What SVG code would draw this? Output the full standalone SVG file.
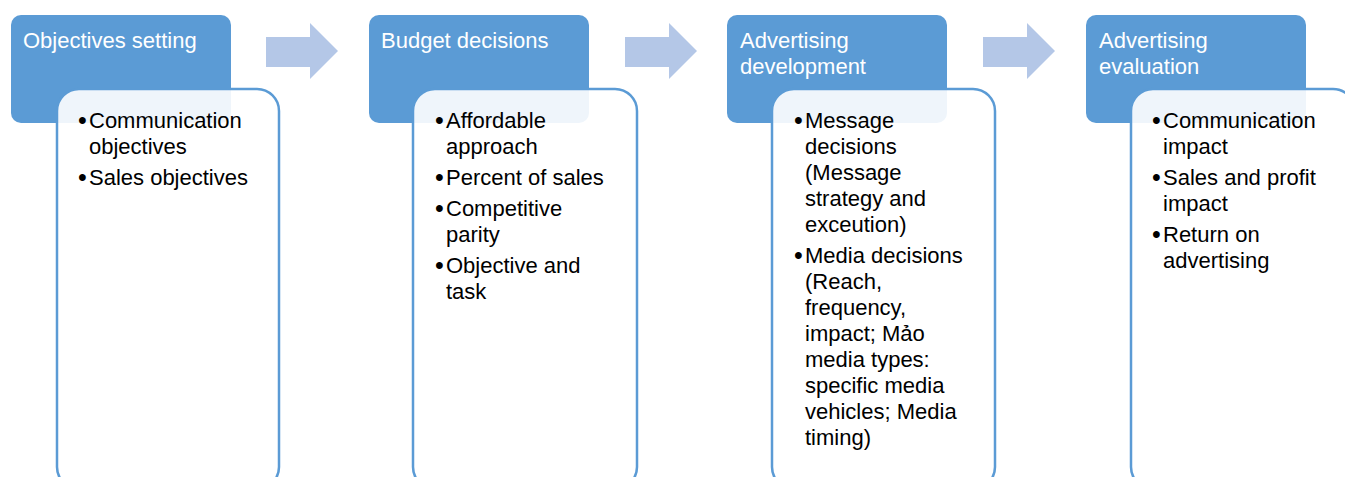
<svg xmlns="http://www.w3.org/2000/svg" width="1345" height="477" viewBox="0 0 1345 477">
<style>
.hdr{fill:#5B9BD5}
.body{fill:#FFFFFF;fill-opacity:0.9;stroke:#5B9BD5;stroke-width:2.5}
.arrow{fill:#B4C7E7}
.ht{font-family:"Liberation Sans",Arial,sans-serif;font-size:22px;fill:#FFFFFF}
.bt{font-family:"Liberation Sans",Arial,sans-serif;font-size:22px;fill:#000000}
.bu{font-size:25px}
</style>
<g id="connectors">
<polygon class="arrow" points="266,37 310,37 310,23 338,51 310,79 310,67 266,67"/>
<polygon class="arrow" points="625,37 669,37 669,23 697,51 669,79 669,67 625,67"/>
<polygon class="arrow" points="983,37 1027,37 1027,23 1055,51 1027,79 1027,67 983,67"/>
</g>
<g id="node-objectives">
<rect class="hdr" x="11" y="15" width="220" height="108" rx="10"/>
<text class="ht" x="23" y="48">Objectives setting</text>
<rect class="body" x="57" y="89" width="222" height="400" rx="22"/>
<text class="bt"><tspan class="bu" x="78" y="129">•</tspan><tspan x="89" y="128">Communication</tspan><tspan x="89" y="154">objectives</tspan></text>
<text class="bt"><tspan class="bu" x="78" y="186">•</tspan><tspan x="89" y="185">Sales objectives</tspan></text>
</g>
<g id="node-budget">
<rect class="hdr" x="369" y="15" width="220" height="108" rx="10"/>
<text class="ht" x="381" y="48">Budget decisions</text>
<rect class="body" x="413" y="89" width="224" height="400" rx="22"/>
<text class="bt"><tspan class="bu" x="435" y="129">•</tspan><tspan x="446" y="128">Affordable</tspan><tspan x="446" y="154">approach</tspan></text>
<text class="bt"><tspan class="bu" x="435" y="186">•</tspan><tspan x="446" y="185">Percent of sales</tspan></text>
<text class="bt"><tspan class="bu" x="435" y="217">•</tspan><tspan x="446" y="216">Competitive</tspan><tspan x="446" y="242">parity</tspan></text>
<text class="bt"><tspan class="bu" x="435" y="274">•</tspan><tspan x="446" y="273">Objective and</tspan><tspan x="446" y="299">task</tspan></text>
</g>
<g id="node-development">
<rect class="hdr" x="727" y="15" width="220" height="108" rx="10"/>
<text class="ht"><tspan x="740" y="48">Advertising</tspan><tspan x="740" y="74">development</tspan></text>
<rect class="body" x="772" y="89" width="223" height="400" rx="22"/>
<text class="bt"><tspan class="bu" x="794" y="129">•</tspan><tspan x="805" y="128">Message</tspan><tspan x="805" y="154">decisions</tspan><tspan x="805" y="180">(Message</tspan><tspan x="805" y="206">strategy and</tspan><tspan x="805" y="232">exceution)</tspan></text>
<text class="bt"><tspan class="bu" x="794" y="264">•</tspan><tspan x="805" y="263">Media decisions</tspan><tspan x="805" y="289">(Reach,</tspan><tspan x="805" y="315">frequency,</tspan><tspan x="805" y="341">impact; Mảo</tspan><tspan x="805" y="367">media types:</tspan><tspan x="805" y="393">specific media</tspan><tspan x="805" y="419">vehicles; Media</tspan><tspan x="805" y="445">timing)</tspan></text>
</g>
<g id="node-evaluation">
<rect class="hdr" x="1086" y="15" width="220" height="108" rx="10"/>
<text class="ht"><tspan x="1099" y="48">Advertising</tspan><tspan x="1099" y="74">evaluation</tspan></text>
<rect class="body" x="1131" y="89" width="224" height="400" rx="22"/>
<text class="bt"><tspan class="bu" x="1152" y="129">•</tspan><tspan x="1163" y="128">Communication</tspan><tspan x="1163" y="154">impact</tspan></text>
<text class="bt"><tspan class="bu" x="1152" y="186">•</tspan><tspan x="1163" y="185">Sales and profit</tspan><tspan x="1163" y="211">impact</tspan></text>
<text class="bt"><tspan class="bu" x="1152" y="243">•</tspan><tspan x="1163" y="242">Return on</tspan><tspan x="1163" y="268">advertising</tspan></text>
</g>
</svg>
